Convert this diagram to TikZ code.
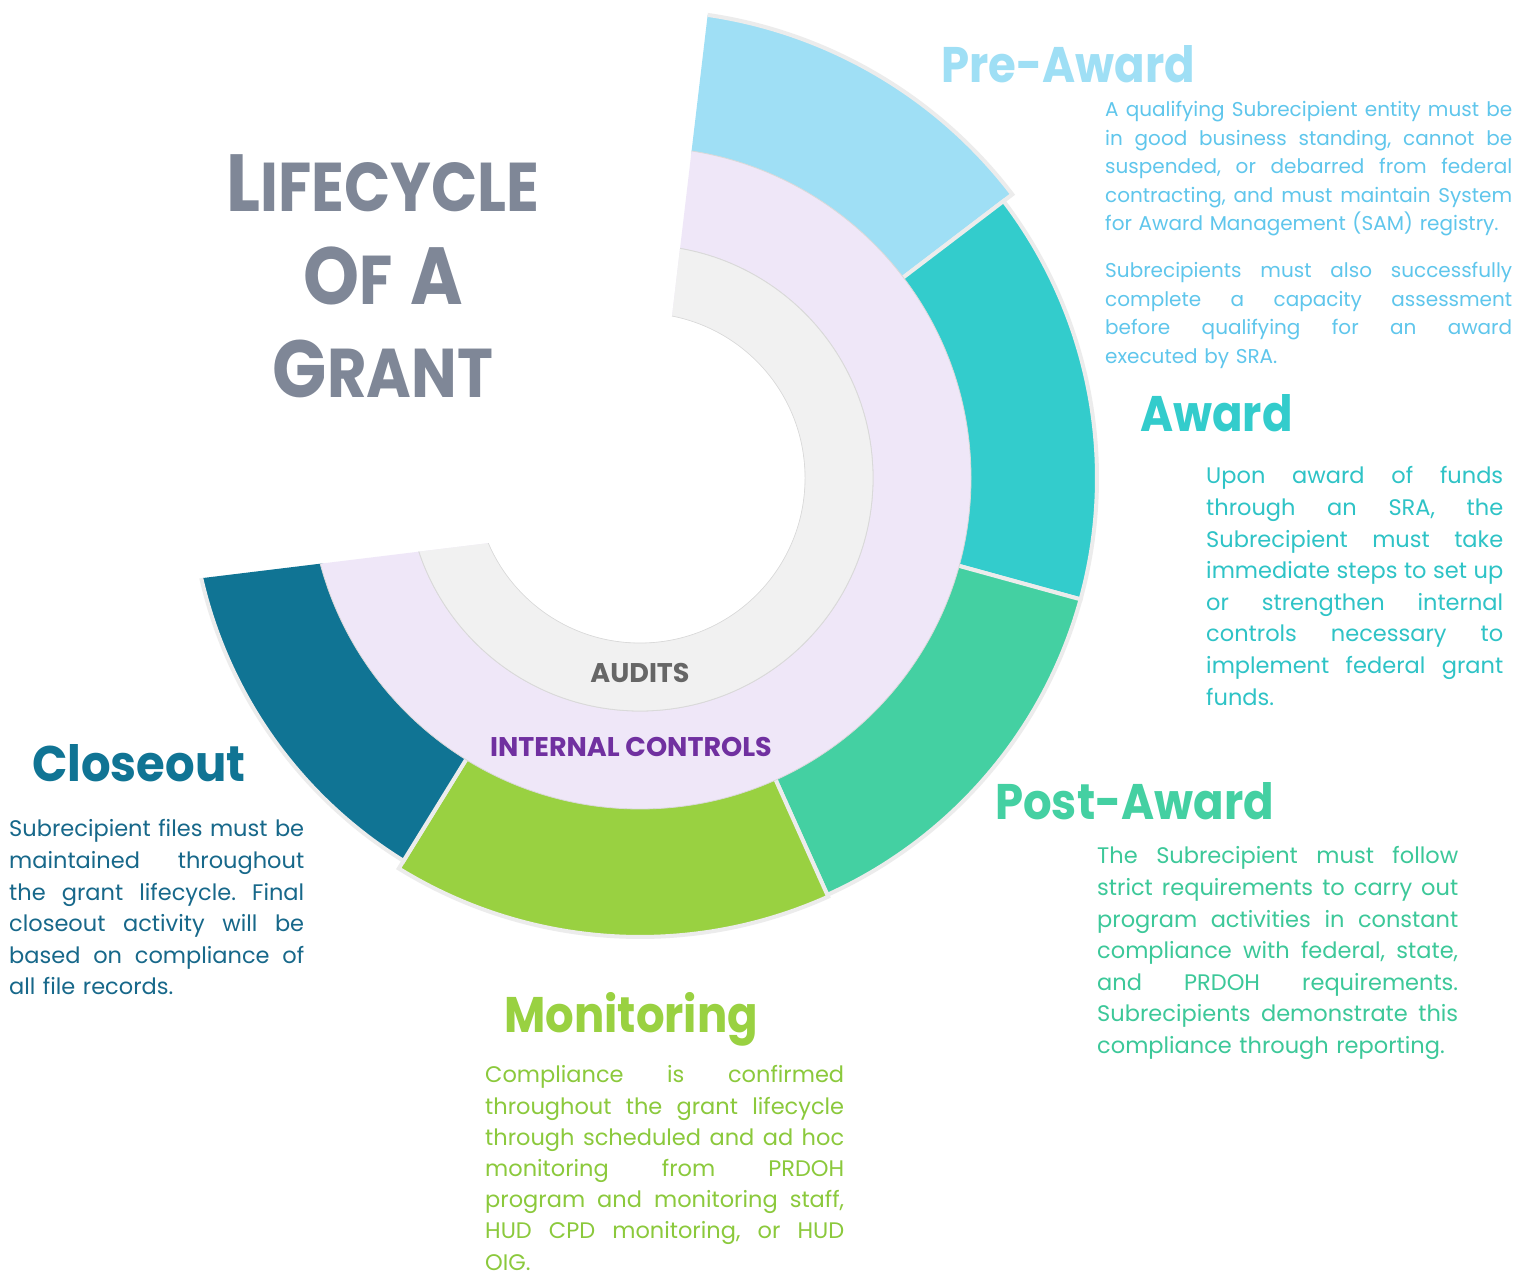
\documentclass[tikz,border=0pt]{standalone}
\usepackage{fontspec}
\usepackage{graphicx}
\setmainfont{Poppins}
\usetikzlibrary{positioning}
\frenchspacing

\definecolor{preaward}{HTML}{9FDFF5}
\definecolor{pretext}{HTML}{5FC6EC}
\definecolor{award}{HTML}{33CCCC}
\definecolor{awardtext}{HTML}{2EC3C6}
\definecolor{postaward}{HTML}{44D0A2}
\definecolor{posttext}{HTML}{3CC899}
\definecolor{monitoring}{HTML}{99D141}
\definecolor{montext}{HTML}{8BC93C}
\definecolor{closeout}{HTML}{107494}
\definecolor{closetext}{HTML}{17688A}
\definecolor{controls}{HTML}{EFE7F8}
\definecolor{audits}{HTML}{F1F1F1}
\definecolor{rim}{HTML}{ECECEC}
\definecolor{edgegray}{HTML}{D9D9D9}
\definecolor{titlegray}{HTML}{7F8797}
\definecolor{purpletext}{HTML}{7030A0}

% one piece of a ring: colour, from angle, to angle, inner radius, outer radius
\newcommand{\ringseg}[5]{%
  \filldraw[fill=#1, draw=rim, line width=4pt] (#2:#5pt) arc[start angle=#2, end angle=#3, radius=#5pt]
    -- (#3:#4pt) arc[start angle=#3, end angle=#2, radius=#4pt] -- cycle;}
% a justified line of a text block
\newlength{\blurbw}
\newcommand{\jl}[1]{\leavevmode{\spaceskip=0.25em plus 1fil\relax\hbox to \blurbw{#1}}\\}
% narrower letters for headings and title
\newcommand{\narrow}[2][0.9]{\scalebox{#1}[1]{#2}}
% small caps of the title
\newcommand{\tcap}[2]{{\fontsize{81}{81}\selectfont #1}{\fontsize{69}{69}\selectfont #2}}

\tikzset{
  phase/.style={anchor=base west, inner sep=0pt, font=\fontsize{50}{50}\selectfont\bfseries},
  blurb/.style={anchor=base west, inner sep=0pt, align=left, text width=#1,
    execute at begin node={\setlength{\blurbw}{#1}}, font=\fontsize{22.5}{31.6}\selectfont},
  bigtitle/.style={anchor=base, inner sep=0pt, text=titlegray, font=\bfseries},
  ringlabel/.style={anchor=base, inner sep=0pt, font=\fontsize{27}{27}\selectfont\bfseries},
}

\begin{document}
\begin{tikzpicture}[x=1pt, y=1pt]
  \fill[white] (0,0) rectangle (1520,1277);
  \useasboundingbox (0,0) rectangle (1520,1277);

  % the rings, cut open at the upper left
  \begin{scope}
    \clip (647.5,753.2) -- (711.8,1297) -- (1540,1297) -- (1540,-20) -- (-20,-20) -- (-20,671.8) -- cycle;
    \begin{scope}[shift={(640,799)}]
      \ringseg{preaward}{37.3}{100}{328}{468}
      \ringseg{award}{-15.4}{37.3}{328}{457}
      \ringseg{postaward}{-65.8}{-15.4}{328}{457}
      \ringseg{monitoring}{-121.7}{-65.8}{328}{459}
      \ringseg{closeout}{-175}{-121.7}{328}{450}
      % internal controls
      \filldraw[fill=controls, draw=edgegray, line width=0.8pt] (0,0) circle[radius=331pt] (0,0) circle[radius=233pt];
      % audits
      \filldraw[fill=audits, draw=edgegray, line width=0.8pt] (0,0) circle[radius=233pt] (0,0) circle[radius=165pt];
    \end{scope}
  \end{scope}
  \fill[white] (640,799) circle[radius=164.5pt];

  \node[ringlabel, text=black!60] (audits) at (640,594) {AUDITS};
  \node[ringlabel, text=purpletext] (controls) at (631,520) {INTERNAL CONTROLS};

  % title
  \node[bigtitle] (life) at (383,1065) {\narrow[0.88]{\tcap{L}{IFECYCLE}}};
  \node[bigtitle] (ofa) at (383,972) {\narrow[0.88]{\tcap{O}{F}\hspace{20pt}\tcap{A}{}}};
  \node[bigtitle] (grant) at (383,879) {\narrow[0.88]{\tcap{G}{RANT}}};

  % Pre-Award
  \node[phase, text=preaward] (pre) at (941,1194) {\narrow{Pre-Award}};
  \node[blurb=407pt, text=pretext, font=\fontsize{20}{28.5}\selectfont] (pretxt) at (1105,1160) {%
    \jl{A qualifying Subrecipient entity must be}
    \jl{in good business standing, cannot be}
    \jl{suspended, or debarred from federal}
    \jl{contracting, and must maintain System}
    for Award Management (SAM) registry.};
  \node[blurb=407pt, text=pretext, font=\fontsize{20}{28.5}\selectfont] (pretxtb) at (1105,999) {%
    \jl{Subrecipients must also successfully}
    \jl{complete a capacity assessment}
    \jl{before qualifying for an award}
    executed by SRA.};

  % Award
  \node[phase, text=award] (aw) at (1140,845) {\narrow{Award}};
  \node[blurb=297pt, text=awardtext] (awtxt) at (1206,793) {%
    \jl{Upon award of funds}
    \jl{through an SRA, the}
    \jl{Subrecipient must take}
    \jl{immediate steps to set up}
    \jl{or strengthen internal}
    \jl{controls necessary to}
    \jl{implement federal grant}
    funds.};

  % Post-Award
  \node[phase, text=postaward] (post) at (995,457) {\narrow{Post-Award}};
  \node[blurb=361pt, text=posttext] (posttxt) at (1097,413) {%
    \jl{The Subrecipient must follow}
    \jl{strict requirements to carry out}
    \jl{program activities in constant}
    \jl{compliance with federal, state,}
    \jl{and PRDOH requirements.}
    \jl{Subrecipients demonstrate this}
    compliance through reporting.};

  % Monitoring
  \node[phase, text=monitoring] (mon) at (504,244) {\narrow{Monitoring}};
  \node[blurb=359pt, text=montext, font=\fontsize{22.5}{31.2}\selectfont] (montxt) at (485,194) {%
    \jl{Compliance is confirmed}
    \jl{throughout the grant lifecycle}
    \jl{through scheduled and ad hoc}
    \jl{monitoring from PRDOH}
    \jl{program and monitoring staff,}
    \jl{HUD CPD monitoring, or HUD}
    OIG.};

  % Closeout
  \node[phase, text=closeout] (close) at (32,495) {\narrow[0.93]{Closeout}};
  \node[blurb=295pt, text=closetext] (closetxt) at (9,440) {%
    \jl{Subrecipient files must be}
    \jl{maintained throughout}
    \jl{the grant lifecycle. Final}
    \jl{closeout activity will be}
    \jl{based on compliance of}
    all file records.};
\end{tikzpicture}
\end{document}
